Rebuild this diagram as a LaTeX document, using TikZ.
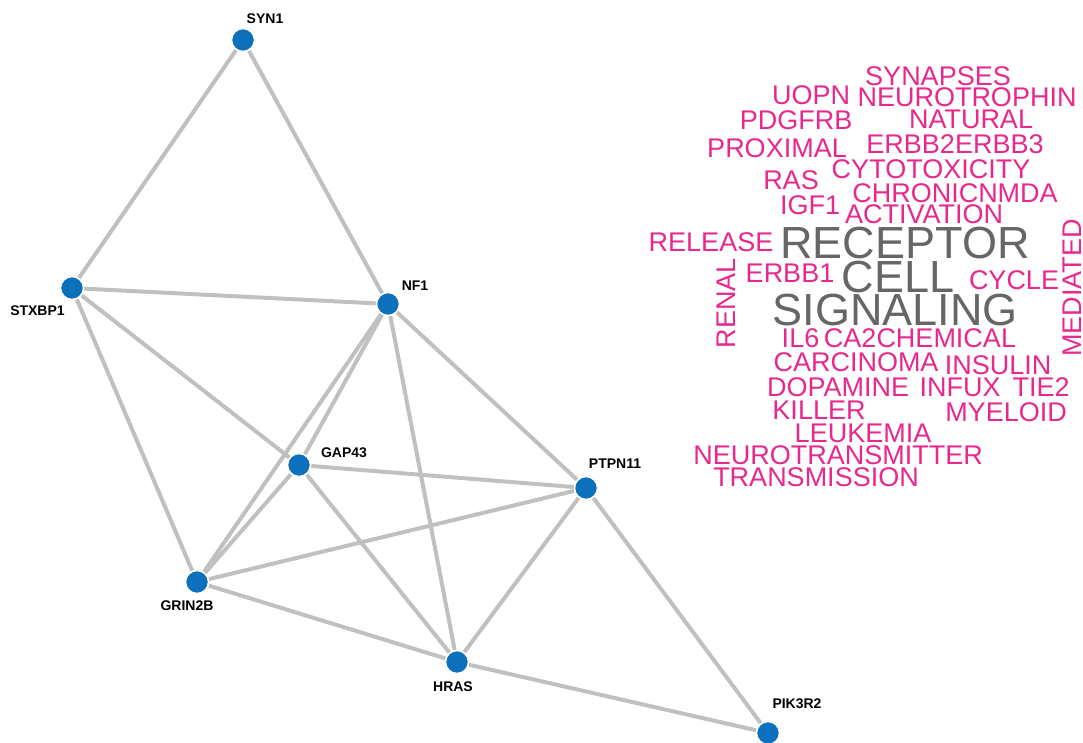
\documentclass[tikz,border=0pt]{standalone}
\usepackage{fontspec}
\setmainfont{Liberation Sans}
\definecolor{nodeblue}{RGB}{12,112,188}
\definecolor{edgegray}{RGB}{192,192,192}
\definecolor{pinkword}{RGB}{232,40,140}
\definecolor{grayword}{RGB}{102,102,102}
\begin{document}
\begin{tikzpicture}[x=1pt,y=-1pt,
  gene/.style={circle,fill=nodeblue,draw=white,line width=1.5pt,minimum size=23pt,inner sep=0pt},
  glabel/.style={font=\fontsize{14}{14}\selectfont\bfseries,text=black,inner sep=0pt},
  link/.style={draw=edgegray,line width=4pt},
  pw/.style={font=\fontsize{27}{27}\selectfont,text=pinkword,inner sep=0pt},
  gw/.style={font=\fontsize{45}{45}\selectfont,text=grayword,inner sep=0pt}]
\useasboundingbox (0,0) rectangle (1083,742);
% gene nodes
\node[gene] (SYN1) at (243,40) {};
\node[gene] (STXBP1) at (72,288) {};
\node[gene] (NF1) at (388,304) {};
\node[gene] (GAP43) at (299,465) {};
\node[gene] (PTPN11) at (586,488) {};
\node[gene] (GRIN2B) at (197,582) {};
\node[gene] (HRAS) at (457,662) {};
\node[gene] (PIK3R2) at (768,733) {};
% edges
\begin{scope}[on background layer/.style={}]
\end{scope}
\path[link] (SYN1) -- (STXBP1);
\path[link] (SYN1) -- (NF1);
\path[link] (STXBP1) -- (NF1);
\path[link] (STXBP1) -- (GAP43);
\path[link] (STXBP1) -- (GRIN2B);
\path[link] (NF1) -- (GAP43);
\path[link] (NF1) -- (GRIN2B);
\path[link] (NF1) -- (HRAS);
\path[link] (NF1) -- (PTPN11);
\path[link] (GAP43) -- (PTPN11);
\path[link] (GAP43) -- (HRAS);
\path[link] (GAP43) -- (GRIN2B);
\path[link] (GRIN2B) -- (PTPN11);
\path[link] (GRIN2B) -- (HRAS);
\path[link] (PTPN11) -- (HRAS);
\path[link] (PTPN11) -- (PIK3R2);
\path[link] (HRAS) -- (PIK3R2);
% redraw nodes on top
\foreach \n in {SYN1,STXBP1,NF1,GAP43,PTPN11,GRIN2B,HRAS,PIK3R2}
  \node[gene] at (\n) {};
% gene labels
\node[glabel] (lSYN1) at (265,18.5) {SYN1};
\node[glabel] (lSTXBP1) at (37.5,311) {STXBP1};
\node[glabel] (lNF1) at (415,286) {NF1};
\node[glabel] (lGAP43) at (344,453) {GAP43};
\node[glabel] (lPTPN11) at (615,464) {PTPN11};
\node[glabel] (lGRIN2B) at (187,606) {GRIN2B};
\node[glabel] (lHRAS) at (453,687) {HRAS};
\node[glabel] (lPIK3R2) at (797,704) {PIK3R2};
% word cloud
\node[pw] (w1) at (938,76) {SYNAPSES};
\node[pw] (w2) at (811,95) {UOPN};
\node[pw] (w3) at (967,97) {NEUROTROPHIN};
\node[pw] (w4) at (796,120) {PDGFRB};
\node[pw] (w5) at (971,119) {NATURAL};
\node[pw] (w6) at (777,148) {PROXIMAL};
\node[pw] (w7) at (955,144) {ERBB2ERBB3};
\node[pw] (w8) at (931,169) {CYTOTOXICITY};
\node[pw] (w9) at (791,180) {RAS};
\node[pw] (w10) at (955,193) {CHRONICNMDA};
\node[pw] (w11) at (810,205) {IGF1};
\node[pw] (w12) at (924,214) {ACTIVATION};
\node[pw] (w13) at (711,242) {RELEASE};
\node[gw] (w14) at (905,243) {RECEPTOR};
\node[pw,rotate=90] (w15) at (726,303) {RENAL};
\node[pw] (w16) at (790,273) {ERBB1};
\node[gw] (w17) at (898,277) {CELL};
\node[pw] (w18) at (1014,280) {CYCLE};
\node[pw,rotate=90] (w19) at (1072,288) {MEDIATED};
\node[gw] (w20) at (895,310) {SIGNALING};
\node[pw] (w21) at (800.5,338) {IL6};
\node[pw] (w22) at (920,338) {CA2CHEMICAL};
\node[pw] (w23) at (856,362) {CARCINOMA};
\node[pw] (w24) at (998,365) {INSULIN};
\node[pw] (w25) at (838,387) {DOPAMINE};
\node[pw] (w26) at (960,387) {INFUX};
\node[pw] (w27) at (1041,387) {TIE2};
\node[pw] (w28) at (819,410) {KILLER};
\node[pw] (w29) at (1006,412) {MYELOID};
\node[pw] (w30) at (863,433) {LEUKEMIA};
\node[pw] (w31) at (838,455) {NEUROTRANSMITTER};
\node[pw] (w32) at (816,477) {TRANSMISSION};
\end{tikzpicture}
\end{document}
